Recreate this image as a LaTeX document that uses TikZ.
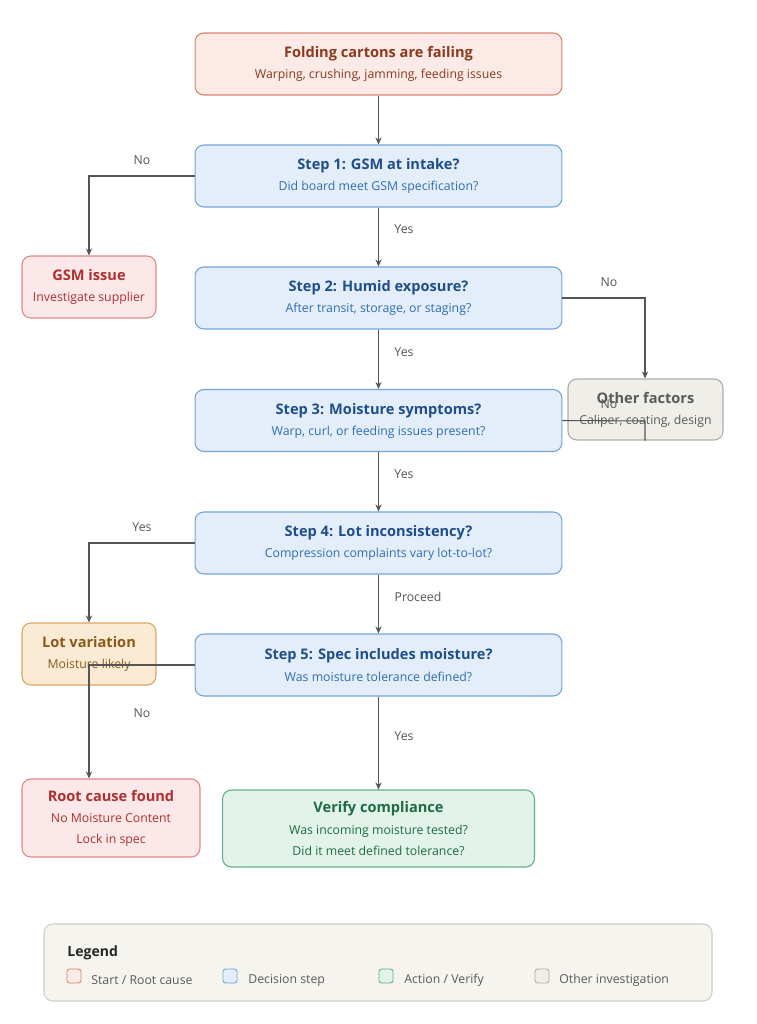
\documentclass[tikz,border=0pt]{standalone}
\usepackage{fontspec}
\setmainfont{Open Sans}
\usetikzlibrary{arrows.meta}
\definecolor{stFill}{HTML}{FBEAE5}\definecolor{stLine}{HTML}{D9826A}\definecolor{stText}{HTML}{8B3A1F}
\definecolor{dcFill}{HTML}{E3EEFA}\definecolor{dcLine}{HTML}{74A3D8}\definecolor{dcText}{HTML}{1F4E8C}\definecolor{dcSub}{HTML}{2F6DB5}
\definecolor{rdFill}{HTML}{FCE8E8}\definecolor{rdLine}{HTML}{E08888}\definecolor{rdText}{HTML}{B03030}
\definecolor{ltFill}{HTML}{FBEBD5}\definecolor{ltLine}{HTML}{D9A562}\definecolor{ltText}{HTML}{8B5A1A}
\definecolor{otFill}{HTML}{F0EEE8}\definecolor{otLine}{HTML}{B0ADA5}\definecolor{otText}{HTML}{5A5A5A}
\definecolor{grFill}{HTML}{E2F3EA}\definecolor{grLine}{HTML}{5FB08A}\definecolor{grText}{HTML}{1E6B45}
\definecolor{lgFill}{HTML}{F5F4EF}\definecolor{lgLine}{HTML}{D0CEC8}
\definecolor{edge}{HTML}{555555}
\newcommand{\boxhead}{\fontsize{8.3}{10}\selectfont\bfseries}
\newcommand{\boxsub}{\fontsize{7}{10}\selectfont\mdseries}
\tikzset{
  box/.style={draw, rounded corners=5pt, line width=0.6pt, align=center, inner sep=0pt},
  startbox/.style={box, fill=stFill, draw=stLine, text=stText, minimum width=7.34cm, minimum height=1.24cm},
  decision/.style={box, fill=dcFill, draw=dcLine, text=dcText, minimum width=7.34cm, minimum height=1.24cm},
  fault/.style={box, fill=rdFill, draw=rdLine, text=rdText},
  lotbox/.style={box, fill=ltFill, draw=ltLine, text=ltText},
  otherbox/.style={box, fill=otFill, draw=otLine, text=otText},
  verifybox/.style={box, fill=grFill, draw=grLine, text=grText},
  link/.style={draw=edge, line width=0.6pt, -{Stealth[length=4pt,width=3.5pt]}},
  lab/.style={text=edge, font=\fontsize{7}{9}\selectfont},
  swatch/.style={draw, rounded corners=1.5pt, line width=0.5pt, minimum size=0.28cm, inner sep=0pt},
  key/.style={text=otText, font=\fontsize{7}{9}\selectfont, anchor=west, inner sep=0pt}
}
\begin{document}
\begin{tikzpicture}[x=0.02cm,y=-0.02cm]
  \useasboundingbox (0,0) rectangle (757,1024);
  % nodes
  \node[startbox] (start) at (378.5,64) {\boxhead Folding cartons are failing\\[0pt]\boxsub Warping, crushing, jamming, feeding issues};
  \node[decision] (s1) at (378.5,176) {\boxhead Step 1: GSM at intake?\\[0pt]\boxsub\color{dcSub} Did board meet GSM specification?};
  \node[fault, minimum width=2.68cm, minimum height=1.24cm] (gsm) at (89,287) {\boxhead GSM issue\\[0pt]\boxsub Investigate supplier};
  \node[decision] (s2) at (378.5,298) {\boxhead Step 2: Humid exposure?\\[0pt]\boxsub\color{dcSub} After transit, storage, or staging?};
  \node[otherbox, minimum width=3.1cm, minimum height=1.22cm] (other) at (645.5,409.5) {\boxhead Other factors\\[0pt]\boxsub Caliper, coating, design};
  \node[decision] (s3) at (378.5,420.5) {\boxhead Step 3: Moisture symptoms?\\[0pt]\boxsub\color{dcSub} Warp, curl, or feeding issues present?};
  \node[decision] (s4) at (378.5,543) {\boxhead Step 4: Lot inconsistency?\\[0pt]\boxsub\color{dcSub} Compression complaints vary lot-to-lot?};
  \node[lotbox, minimum width=2.68cm, minimum height=1.24cm] (lotvar) at (89,654) {\boxhead Lot variation\\[0pt]\boxsub Moisture likely};
  \node[decision] (s5) at (378.5,665) {\boxhead Step 5: Spec includes moisture?\\[0pt]\boxsub\color{dcSub} Was moisture tolerance defined?};
  \node[fault, minimum width=3.56cm, minimum height=1.56cm] (root) at (111,818) {\boxhead Root cause found\\[0pt]\boxsub No Moisture Content\\\boxsub Lock in spec};
  \node[verifybox, minimum width=6.24cm, minimum height=1.54cm] (verify) at (378.5,828.5) {\boxhead Verify compliance\\[0pt]\boxsub Was incoming moisture tested?\\\boxsub Did it meet defined tolerance?};
  % connectors
  \coordinate (c1) at (89,176);
  \coordinate (c2) at (645,298);
  \coordinate (c3) at (645,421);
  \coordinate (c4) at (89,543);
  \coordinate (c5) at (89,665);
  \draw[link] (start) -- (s1);
  \draw[link] (s1.west) -- (c1) -- (gsm.north);
  \draw[link] (s1) -- (s2);
  \draw[link] (s2.east) -- (c2) -- (other.north -| c2);
  \draw[link] (s2) -- (s3);
  \draw[draw=edge, line width=0.6pt] (s3.east) -- (c3) -- (other.south -| c3);
  \draw[link] (s3) -- (s4);
  \draw[link] (s4.west) -- (c4) -- (lotvar.north);
  \draw[link] (s4) -- (s5);
  \draw[link] (s5.west) -- (c5) -- (root.north -| c5);
  \draw[link] (s5) -- (verify);
  % labels
  \node[lab] (l1) at (142,160) {No};
  \node[lab] (l2) at (404,229) {Yes};
  \node[lab] (l3) at (609,282) {No};
  \node[lab] (l4) at (404,352) {Yes};
  \node[lab] (l5) at (609,404) {No};
  \node[lab] (l6) at (404,474) {Yes};
  \node[lab] (l7) at (142,527) {Yes};
  \node[lab] (l8) at (418,597) {Proceed};
  \node[lab] (l9) at (142,713) {No};
  \node[lab] (l10) at (404,736) {Yes};
  % legend
  \draw[fill=lgFill, draw=lgLine, line width=0.6pt, rounded corners=5pt] (44,924) rectangle (712,1001);
  \node[anchor=west, inner sep=0pt, font=\fontsize{8}{10}\selectfont\bfseries, text=black!85] (lgtitle) at (67,953) {Legend};
  \node[swatch, fill=stFill, draw=stLine] (k1) at (74,976) {};
  \node[key] (t1) at (91,980) {Start / Root cause};
  \node[swatch, fill=dcFill, draw=dcLine] (k2) at (230,976) {};
  \node[key] (t2) at (248,980) {Decision step};
  \node[swatch, fill=grFill, draw=grLine] (k3) at (386,976) {};
  \node[key] (t3) at (404,980) {Action / Verify};
  \node[swatch, fill=otFill, draw=otLine] (k4) at (542,976) {};
  \node[key] (t4) at (559,980) {Other investigation};
\end{tikzpicture}
\end{document}
